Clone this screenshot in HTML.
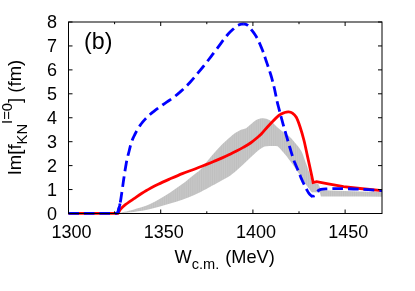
<!DOCTYPE html>
<html><head><meta charset="utf-8">
<style>
html,body{margin:0;padding:0;background:#fff;}
body{width:415px;height:291px;overflow:hidden;}
svg{display:block;will-change:transform;}
text{font-family:"Liberation Sans",sans-serif;fill:#000;}
</style></head><body>
<svg width="415" height="291" viewBox="0 0 415 291">
<rect x="0" y="0" width="415" height="291" fill="#fff"/>
<defs>
<pattern id="st" width="1.844" height="4" patternUnits="userSpaceOnUse">
<rect x="0" y="0" width="1.844" height="4" fill="#c7c7c7"/>
<rect x="0" y="0" width="0.6" height="4" fill="#bbbbbb"/>
</pattern>
</defs>
<path fill="url(#st)" d="M118.40,213.40 C119.42,213.13 121.90,212.47 124.50,211.80 C127.10,211.13 130.42,210.40 134.00,209.40 C137.58,208.40 141.97,207.40 146.00,205.80 C150.03,204.20 154.17,202.02 158.20,199.80 C162.23,197.58 166.18,195.12 170.20,192.50 C174.22,189.88 178.28,187.10 182.30,184.10 C186.32,181.10 191.35,176.85 194.30,174.50 C197.25,172.15 198.17,171.80 200.00,170.00 C201.83,168.20 203.02,166.43 205.30,163.70 C207.58,160.97 210.88,156.83 213.70,153.60 C216.52,150.37 219.38,147.12 222.20,144.30 C225.02,141.48 228.30,138.65 230.60,136.70 C232.90,134.75 234.35,133.72 236.00,132.60 C237.65,131.48 238.90,130.67 240.50,130.00 C242.10,129.33 244.32,129.17 245.60,128.60 C246.88,128.03 247.33,127.32 248.20,126.60 C249.07,125.88 249.53,125.37 250.80,124.30 C252.07,123.23 254.00,121.20 255.80,120.20 C257.60,119.20 259.83,118.55 261.60,118.30 C263.37,118.05 264.80,118.22 266.40,118.70 C268.00,119.18 269.43,119.82 271.20,121.20 C272.97,122.58 275.12,125.28 277.00,127.00 C278.88,128.72 280.57,130.05 282.50,131.50 C284.43,132.95 286.55,133.88 288.60,135.70 C290.65,137.52 292.68,139.83 294.80,142.40 C296.92,144.97 299.55,147.90 301.30,151.10 C303.05,154.30 303.95,157.93 305.30,161.60 C306.65,165.27 308.25,169.57 309.40,173.10 C310.55,176.63 311.73,181.18 312.20,182.80 L312.20,182.80 L318.60,184.30 L320.90,190.00 L330.10,190.60 L360.00,191.50 L382.00,192.00 L382.00,196.80 L360.00,196.50 L330.10,196.50 L320.90,196.50 L319.80,192.60 L313.70,192.30 C313.33,192.27 312.30,192.73 311.50,192.10 C310.70,191.47 309.97,189.98 308.90,188.50 C307.83,187.02 306.73,185.60 305.10,183.20 C303.47,180.80 301.10,177.12 299.10,174.10 C297.10,171.08 295.03,167.87 293.10,165.10 C291.17,162.33 289.07,159.55 287.50,157.50 C285.93,155.45 285.13,154.48 283.70,152.80 C282.27,151.12 280.18,148.52 278.90,147.40 C277.62,146.28 277.60,146.33 276.00,146.10 C274.40,145.87 271.22,145.92 269.30,146.00 C267.38,146.08 265.88,146.17 264.50,146.60 C263.12,147.03 262.13,147.87 261.00,148.60 C259.87,149.33 259.45,149.52 257.70,151.00 C255.95,152.48 252.92,155.25 250.50,157.50 C248.08,159.75 245.62,162.25 243.20,164.50 C240.78,166.75 238.38,169.00 236.00,171.00 C233.62,173.00 231.57,174.75 228.90,176.50 C226.23,178.25 222.65,180.03 220.00,181.50 C217.35,182.97 215.27,184.07 213.00,185.30 C210.73,186.53 209.52,187.30 206.40,188.90 C203.28,190.50 198.32,193.08 194.30,194.90 C190.28,196.72 186.32,198.38 182.30,199.80 C178.28,201.22 174.22,202.20 170.20,203.40 C166.18,204.60 162.23,205.92 158.20,207.00 C154.17,208.08 150.70,209.02 146.00,209.90 C141.30,210.78 134.60,211.72 130.00,212.30 C125.40,212.88 120.33,213.22 118.40,213.40 Z"/>
<path fill="none" stroke="#ff0000" stroke-width="2.8" stroke-linejoin="miter" d="M68.40,213.40 L118.00,213.40 C118.47,212.67 119.72,210.35 120.80,209.00 C121.88,207.65 122.30,207.02 124.50,205.30 C126.70,203.58 130.42,201.12 134.00,198.70 C137.58,196.28 141.97,193.20 146.00,190.80 C150.03,188.40 154.17,186.30 158.20,184.30 C162.23,182.30 166.18,180.58 170.20,178.80 C174.22,177.02 178.28,175.20 182.30,173.60 C186.32,172.00 190.47,170.65 194.30,169.20 C198.13,167.75 202.07,166.18 205.30,164.90 C208.53,163.62 210.88,162.67 213.70,161.50 C216.52,160.33 219.38,159.17 222.20,157.90 C225.02,156.63 228.30,155.02 230.60,153.90 C232.90,152.78 233.90,152.28 236.00,151.20 C238.10,150.12 240.78,148.77 243.20,147.40 C245.62,146.03 248.08,144.68 250.50,143.00 C252.92,141.32 255.78,138.93 257.70,137.30 C259.62,135.67 260.07,135.25 262.00,133.20 C263.93,131.15 266.48,127.97 269.30,125.00 C272.12,122.03 276.33,117.48 278.90,115.40 C281.47,113.32 283.08,113.10 284.70,112.50 C286.32,111.90 287.32,111.70 288.60,111.80 C289.88,111.90 291.12,112.18 292.40,113.10 C293.68,114.02 295.02,114.98 296.30,117.30 C297.58,119.62 298.82,123.13 300.10,127.00 C301.38,130.87 302.78,135.68 304.00,140.50 C305.22,145.32 306.13,150.13 307.40,155.90 C308.67,161.67 310.65,170.67 311.60,175.10 C312.55,179.53 312.85,181.27 313.10,182.50 L313.10,182.50 L316.60,181.70 L328.20,183.80 L343.60,186.60 L360.00,188.50 L382.00,190.60"/>
<path fill="none" stroke="#0000ff" stroke-width="2.8" stroke-dasharray="10.6 4.9" d="M68.40,213.40 L117.60,213.40"/>
<path fill="none" stroke="#0000ff" stroke-width="2.8" stroke-dasharray="10.600 5.211" stroke-dashoffset="4.621" d="M117.60,213.40 L117.88,212.34 L118.27,210.89 L118.73,209.16 L119.22,207.26 L119.69,205.30 L120.10,203.40 L120.45,201.50 L120.79,199.52 L121.10,197.47 L121.40,195.40 L121.70,193.34 L122.00,191.30 L122.30,189.27 L122.59,187.21 L122.88,185.15 L123.16,183.13 L123.43,181.17 L123.70,179.30 L123.96,177.55 L124.21,175.89 L124.45,174.30 L124.69,172.74 L124.94,171.18 L125.20,169.60 L125.47,167.98 L125.74,166.33 L126.02,164.69 L126.30,163.08 L126.60,161.51 L126.90,160.00 L127.21,158.59 L127.53,157.27 L127.85,155.99 L128.19,154.72 L128.53,153.40 L128.90,152.00 L129.27,150.49 L129.65,148.92 L130.04,147.30 L130.45,145.67 L130.90,144.06 L131.40,142.50 L131.93,141.01 L132.49,139.57 L133.07,138.16 L133.71,136.73 L134.42,135.27 L135.20,133.75 L136.05,132.15 L136.97,130.48 L137.94,128.78 L138.99,127.07 L140.11,125.39 L141.30,123.75 L142.56,122.17 L143.87,120.62 L145.25,119.09 L146.72,117.57 L148.30,116.05 L150.00,114.50 L151.86,112.92 L153.89,111.32 L156.01,109.72 L158.19,108.12 L160.37,106.54 L162.50,105.00 L164.58,103.53 L166.67,102.12 L168.75,100.73 L170.83,99.32 L172.92,97.84 L175.00,96.25 L177.05,94.59 L179.07,92.92 L181.09,91.17 L183.15,89.31 L185.27,87.27 L187.50,85.00 L189.88,82.43 L192.41,79.58 L195.00,76.56 L197.59,73.47 L200.12,70.42 L202.50,67.50 L204.74,64.71 L206.89,61.95 L208.97,59.23 L211.00,56.55 L213.00,53.89 L215.00,51.25 L217.02,48.56 L219.07,45.80 L221.08,43.07 L223.02,40.46 L224.84,38.07 L226.50,36.00 L227.98,34.28 L229.33,32.83 L230.56,31.60 L231.69,30.54 L232.73,29.59 L233.70,28.70 L234.55,27.90 L235.25,27.23 L235.87,26.68 L236.46,26.21 L237.08,25.79 L237.80,25.40 L238.63,25.03 L239.52,24.70 L240.45,24.43 L241.38,24.22 L242.27,24.07 L243.10,24.00"/>
<path fill="none" stroke="#0000ff" stroke-width="2.8" stroke-dasharray="10.2 2000" d="M117.60,213.40 L117.88,212.34 L118.27,210.89 L118.73,209.16 L119.22,207.26 L119.69,205.30 L120.10,203.40 L120.45,201.50 L120.79,199.52 L121.10,197.47 L121.40,195.40 L121.70,193.34 L122.00,191.30 L122.30,189.27 L122.59,187.21 L122.88,185.15 L123.16,183.13 L123.43,181.17 L123.70,179.30 L123.96,177.55 L124.21,175.89 L124.45,174.30 L124.69,172.74 L124.94,171.18 L125.20,169.60 L125.47,167.98 L125.74,166.33 L126.02,164.69 L126.30,163.08 L126.60,161.51 L126.90,160.00 L127.21,158.59 L127.53,157.27 L127.85,155.99 L128.19,154.72 L128.53,153.40 L128.90,152.00 L129.27,150.49 L129.65,148.92 L130.04,147.30 L130.45,145.67 L130.90,144.06 L131.40,142.50 L131.93,141.01 L132.49,139.57 L133.07,138.16 L133.71,136.73 L134.42,135.27 L135.20,133.75 L136.05,132.15 L136.97,130.48 L137.94,128.78 L138.99,127.07 L140.11,125.39 L141.30,123.75 L142.56,122.17 L143.87,120.62 L145.25,119.09 L146.72,117.57 L148.30,116.05 L150.00,114.50 L151.86,112.92 L153.89,111.32 L156.01,109.72 L158.19,108.12 L160.37,106.54 L162.50,105.00 L164.58,103.53 L166.67,102.12 L168.75,100.73 L170.83,99.32 L172.92,97.84 L175.00,96.25 L177.05,94.59 L179.07,92.92 L181.09,91.17 L183.15,89.31 L185.27,87.27 L187.50,85.00 L189.88,82.43 L192.41,79.58 L195.00,76.56 L197.59,73.47 L200.12,70.42 L202.50,67.50 L204.74,64.71 L206.89,61.95 L208.97,59.23 L211.00,56.55 L213.00,53.89 L215.00,51.25 L217.02,48.56 L219.07,45.80 L221.08,43.07 L223.02,40.46 L224.84,38.07 L226.50,36.00 L227.98,34.28 L229.33,32.83 L230.56,31.60 L231.69,30.54 L232.73,29.59 L233.70,28.70 L234.55,27.90 L235.25,27.23 L235.87,26.68 L236.46,26.21 L237.08,25.79 L237.80,25.40 L238.63,25.03 L239.52,24.70 L240.45,24.43 L241.38,24.22 L242.27,24.07 L243.10,24.00"/>
<path fill="none" stroke="#0000ff" stroke-width="2.8" stroke-dasharray="10.600 4.824" stroke-dashoffset="5.3" d="M243.10,24.00 L243.86,23.99 L244.57,24.05 L245.26,24.17 L245.91,24.36 L246.56,24.64 L247.20,25.00 L247.80,25.42 L248.34,25.89 L248.86,26.44 L249.42,27.10 L250.05,27.91 L250.80,28.90 L251.70,30.08 L252.72,31.43 L253.82,32.93 L254.94,34.56 L256.05,36.29 L257.10,38.10 L258.11,40.08 L259.13,42.27 L260.13,44.56 L261.09,46.86 L261.99,49.07 L262.80,51.10 L263.48,52.88 L264.05,54.46 L264.56,55.96 L265.05,57.47 L265.58,59.12 L266.20,61.00 L266.94,63.17 L267.75,65.57 L268.61,68.09 L269.46,70.64 L270.27,73.15 L271.00,75.50 L271.64,77.69 L272.23,79.80 L272.78,81.84 L273.30,83.87 L273.80,85.91 L274.30,88.00 L274.79,90.19 L275.26,92.46 L275.72,94.74 L276.16,96.97 L276.59,99.08 L277.00,101.00 L277.39,102.66 L277.75,104.12 L278.09,105.45 L278.44,106.75 L278.80,108.10 L279.20,109.60 L279.62,111.22 L280.05,112.88 L280.50,114.59 L280.97,116.38 L281.47,118.24 L282.00,120.20 L282.58,122.29 L283.20,124.52 L283.84,126.82 L284.50,129.16 L285.16,131.47 L285.80,133.70 L286.42,135.84 L287.03,137.94 L287.63,140.01 L288.24,142.08 L288.86,144.17 L289.50,146.30 L290.16,148.52 L290.84,150.81 L291.53,153.13 L292.23,155.41 L292.92,157.58 L293.60,159.60 L294.27,161.43 L294.94,163.10 L295.61,164.68 L296.28,166.21 L296.94,167.73 L297.60,169.30 L298.26,170.93 L298.91,172.58 L299.57,174.23 L300.22,175.84 L300.86,177.41 L301.50,178.90 L302.13,180.30 L302.74,181.64 L303.36,182.92 L303.97,184.17 L304.58,185.39 L305.20,186.60 L305.83,187.82 L306.46,189.05 L307.09,190.26 L307.72,191.40 L308.36,192.46 L309.00,193.40 L309.69,194.23 L310.44,194.97 L311.19,195.62 L311.89,196.19 L312.47,196.65 L312.90,197.00"/>
<path fill="none" stroke="#0000ff" stroke-width="2.8" stroke-dasharray="10.6 5" stroke-dashoffset="8.4" d="M312.90,197.00 C313.50,196.17 315.15,193.27 316.50,192.00 C317.85,190.73 319.05,189.92 321.00,189.40 C322.95,188.88 325.40,189.03 328.20,188.90 C331.00,188.77 332.50,188.57 337.80,188.60 C343.10,188.63 352.63,188.77 360.00,189.10 C367.37,189.43 378.33,190.35 382.00,190.60"/>
<rect x="68.50" y="22.00" width="313.50" height="191.50" fill="none" stroke="#000" stroke-width="1"/>
<g stroke="#000" stroke-width="1">
<line x1="68.50" y1="213.50" x2="68.50" y2="209.50"/>
<line x1="68.50" y1="22.00" x2="68.50" y2="26.00"/>
<line x1="114.60" y1="213.50" x2="114.60" y2="211.30"/>
<line x1="114.60" y1="22.00" x2="114.60" y2="24.20"/>
<line x1="160.71" y1="213.50" x2="160.71" y2="209.50"/>
<line x1="160.71" y1="22.00" x2="160.71" y2="26.00"/>
<line x1="206.81" y1="213.50" x2="206.81" y2="211.30"/>
<line x1="206.81" y1="22.00" x2="206.81" y2="24.20"/>
<line x1="252.91" y1="213.50" x2="252.91" y2="209.50"/>
<line x1="252.91" y1="22.00" x2="252.91" y2="26.00"/>
<line x1="299.01" y1="213.50" x2="299.01" y2="211.30"/>
<line x1="299.01" y1="22.00" x2="299.01" y2="24.20"/>
<line x1="345.12" y1="213.50" x2="345.12" y2="209.50"/>
<line x1="345.12" y1="22.00" x2="345.12" y2="26.00"/>
<line x1="68.50" y1="213.50" x2="72.50" y2="213.50"/>
<line x1="382.00" y1="213.50" x2="378.00" y2="213.50"/>
<line x1="68.50" y1="189.56" x2="72.50" y2="189.56"/>
<line x1="382.00" y1="189.56" x2="378.00" y2="189.56"/>
<line x1="68.50" y1="165.62" x2="72.50" y2="165.62"/>
<line x1="382.00" y1="165.62" x2="378.00" y2="165.62"/>
<line x1="68.50" y1="141.69" x2="72.50" y2="141.69"/>
<line x1="382.00" y1="141.69" x2="378.00" y2="141.69"/>
<line x1="68.50" y1="117.75" x2="72.50" y2="117.75"/>
<line x1="382.00" y1="117.75" x2="378.00" y2="117.75"/>
<line x1="68.50" y1="93.81" x2="72.50" y2="93.81"/>
<line x1="382.00" y1="93.81" x2="378.00" y2="93.81"/>
<line x1="68.50" y1="69.88" x2="72.50" y2="69.88"/>
<line x1="382.00" y1="69.88" x2="378.00" y2="69.88"/>
<line x1="68.50" y1="45.94" x2="72.50" y2="45.94"/>
<line x1="382.00" y1="45.94" x2="378.00" y2="45.94"/>
<line x1="68.50" y1="22.00" x2="72.50" y2="22.00"/>
<line x1="382.00" y1="22.00" x2="378.00" y2="22.00"/>
</g>
<g font-size="18">
<text x="57.1" y="219.90" text-anchor="end">0</text>
<text x="57.1" y="195.96" text-anchor="end">1</text>
<text x="57.1" y="172.03" text-anchor="end">2</text>
<text x="57.1" y="148.09" text-anchor="end">3</text>
<text x="57.1" y="124.15" text-anchor="end">4</text>
<text x="57.1" y="100.21" text-anchor="end">5</text>
<text x="57.1" y="76.28" text-anchor="end">6</text>
<text x="57.1" y="52.34" text-anchor="end">7</text>
<text x="57.1" y="28.40" text-anchor="end">8</text>
<text x="71.60" y="237.6" text-anchor="middle">1300</text>
<text x="163.81" y="237.6" text-anchor="middle">1350</text>
<text x="256.01" y="237.6" text-anchor="middle">1400</text>
<text x="348.22" y="237.6" text-anchor="middle">1450</text>
</g>
<text x="174.5" y="262.6" font-size="18.2">W<tspan font-size="14.6" dy="6">c.m.</tspan><tspan dy="-6" dx="0.9"> (MeV)</tspan></text>
<text x="84.1" y="48.6" font-size="23.2">(b)</text>
<g transform="translate(21.4,175.3) rotate(-90)" font-size="18.5">
<text x="0" y="0">Im[f<tspan font-size="14.8" dy="5.7">KN</tspan><tspan font-size="14.8" dy="-14.8">I=0</tspan><tspan dy="9.1">] (fm)</tspan></text>
</g>
</svg>
</body></html>
